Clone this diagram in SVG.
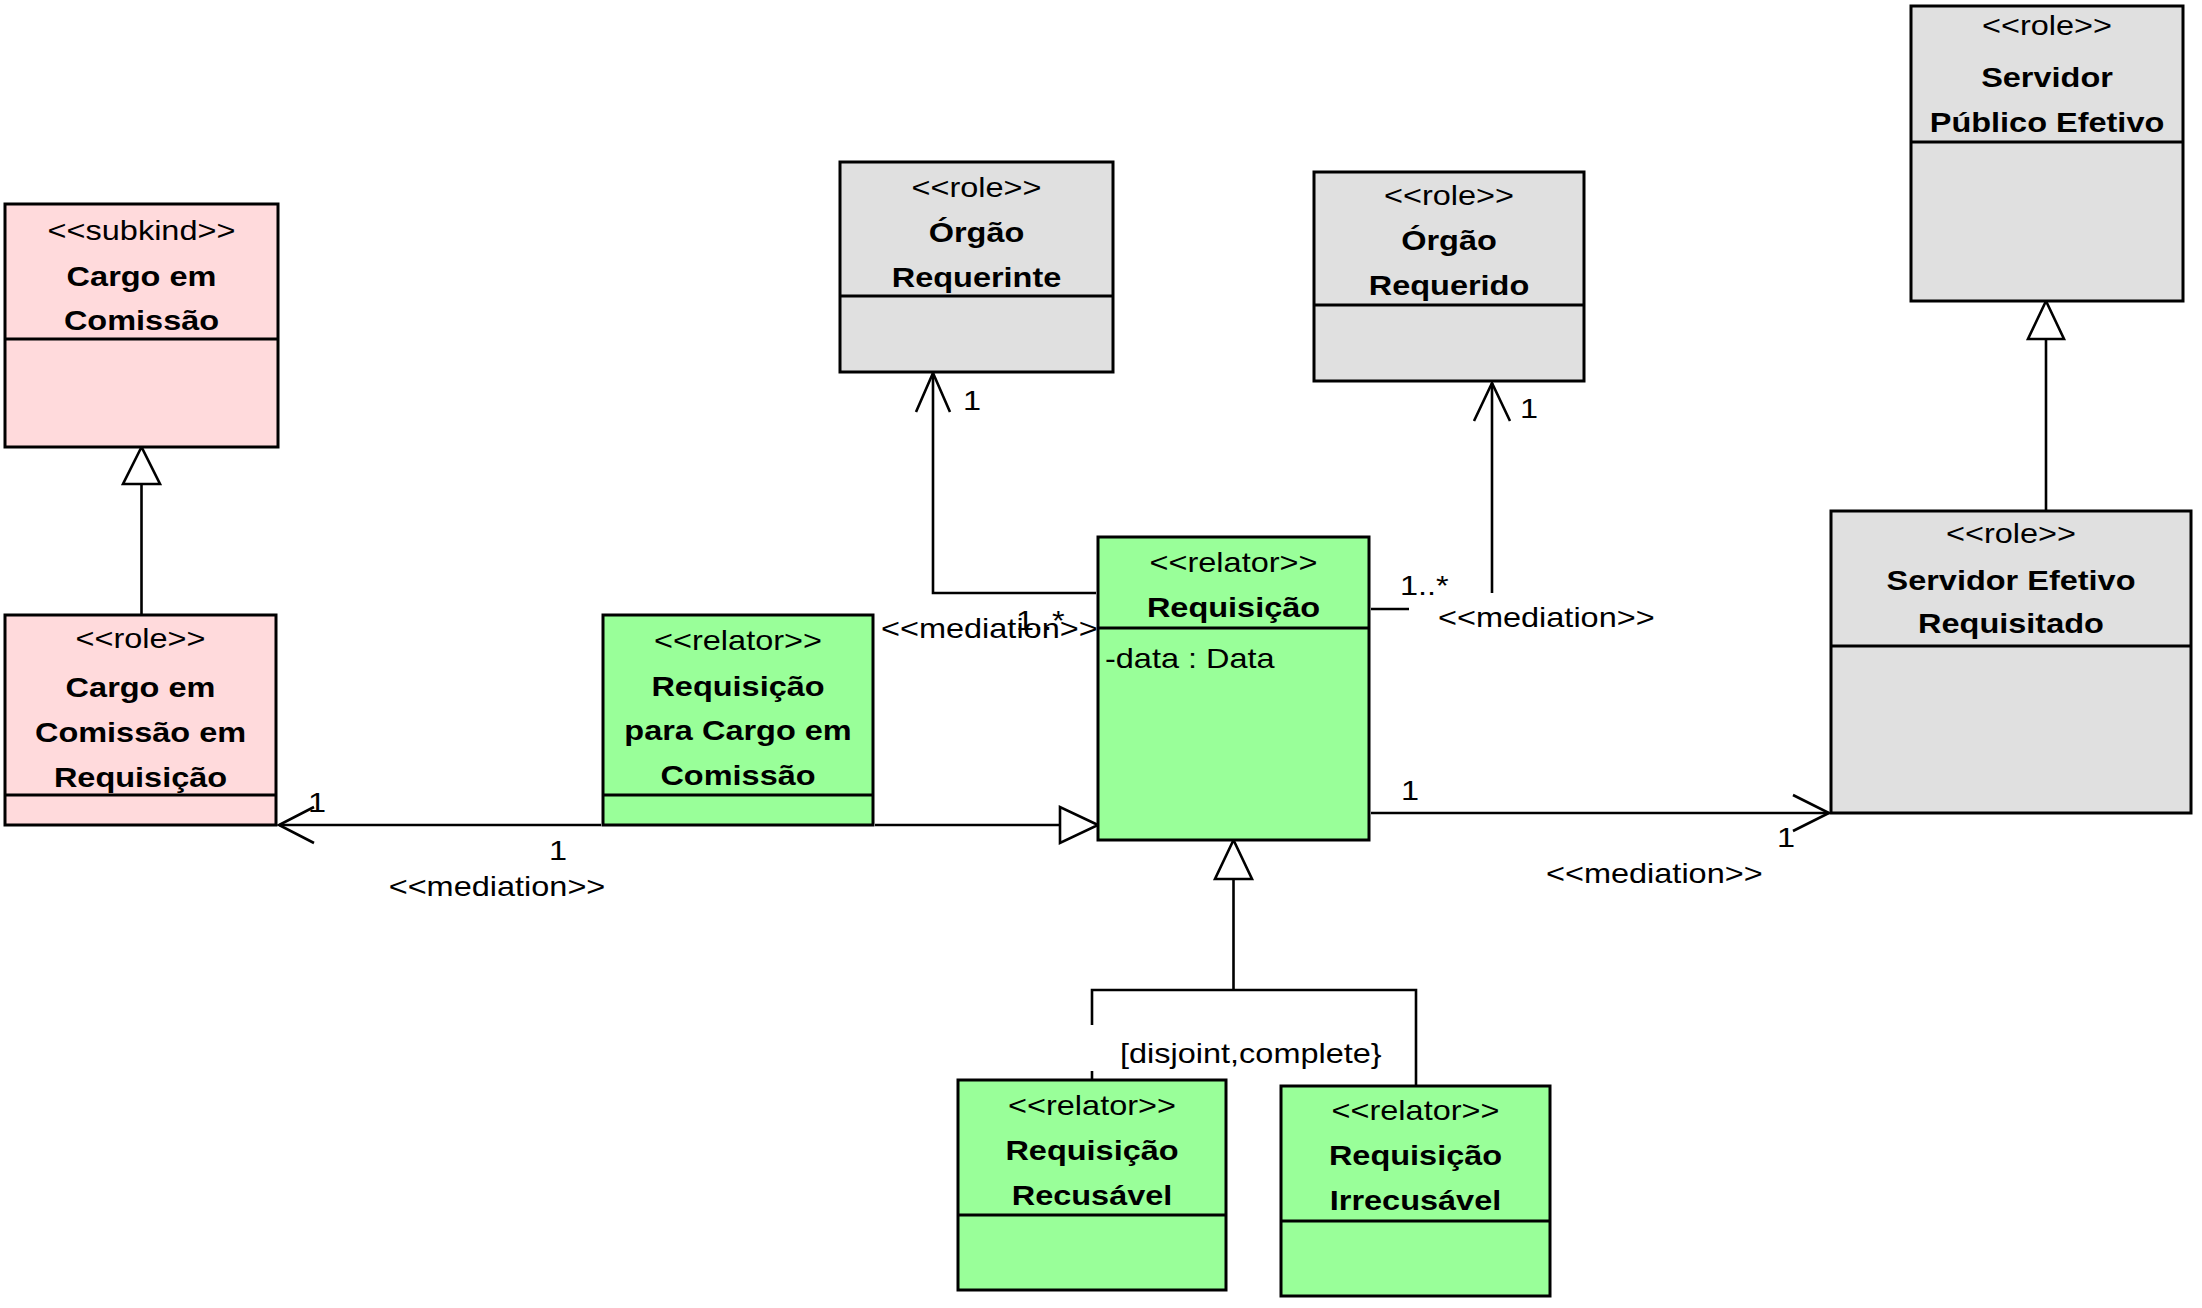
<svg xmlns="http://www.w3.org/2000/svg" width="2202" height="1308" viewBox="0 0 2202 1308">
<style>
text{font-family:"Liberation Sans",Arial,sans-serif;font-size:28px;fill:#000}
.c{text-anchor:middle}
.b{font-weight:bold}
.box{stroke:#000;stroke-width:3}
.pink{fill:#FFDADC}
.green{fill:#99FF99}
.gray{fill:#E0E0E0}
.div{stroke:#000;stroke-width:3}
.ln{fill:none;stroke:#000;stroke-width:2.6}
.tri{fill:#fff;stroke:#000;stroke-width:2.6;stroke-linejoin:miter}
</style>
<rect width="2202" height="1308" fill="#fff"/>
<g id="connectors">
  <!-- generalizations -->
  <line class="ln" x1="141.5" y1="615" x2="141.5" y2="484"/>
  <polygon class="tri" points="141.5,447 123,484 160,484"/>
  <line class="ln" x1="2046" y1="511" x2="2046" y2="339"/>
  <polygon class="tri" points="2046,301 2028,339 2064,339"/>
  <line class="ln" x1="875" y1="825" x2="1060" y2="825"/>
  <polygon class="tri" points="1098,825 1060,807 1060,843"/>
  <polygon class="tri" points="1233.5,840 1215,879 1252,879"/>
  <polyline class="ln" points="1092,1025 1092,990 1416,990 1416,1086"/>
  <line class="ln" x1="1233.5" y1="879" x2="1233.5" y2="990"/>
  <line class="ln" x1="1092" y1="1071" x2="1092" y2="1080"/>
  <text transform="translate(1120,1063) scale(1.16,1)">[disjoint,complete}</text>
  <!-- mediation: Req para Cargo -> Cargo em Comissao em Requisicao -->
  <line class="ln" x1="601" y1="825" x2="279" y2="825"/>
  <polyline class="ln" points="314,807 279,825 314,843"/>
  <text class="c" transform="translate(317,812) scale(1.16,1)">1</text>
  <text class="c" transform="translate(558,860) scale(1.16,1)">1</text>
  <text class="c" transform="translate(497,896) scale(1.16,1)">&lt;&lt;mediation&gt;&gt;</text>
  <!-- mediation: Requisicao -> Orgao Requerinte -->
  <polyline class="ln" points="1096,593 933,593 933,373"/>
  <polyline class="ln" points="916,412 933,373 950,412"/>
  <text class="c" transform="translate(972,410) scale(1.16,1)">1</text>
  <text transform="translate(881,638) scale(1.16,1)">&lt;&lt;mediation&gt;&gt;</text>
  <text transform="translate(1016,630) scale(1.16,1)">1..*</text>
  <!-- mediation: Requisicao -> Orgao Requerido -->
  <line class="ln" x1="1371" y1="609" x2="1409" y2="609"/>
  <line class="ln" x1="1492" y1="593" x2="1492" y2="383"/>
  <polyline class="ln" points="1474,421 1492,383 1510,421"/>
  <text class="c" transform="translate(1529,418) scale(1.16,1)">1</text>
  <text transform="translate(1400,595) scale(1.16,1)">1..*</text>
  <text transform="translate(1438,627) scale(1.16,1)">&lt;&lt;mediation&gt;&gt;</text>
  <!-- mediation: Requisicao -> Servidor Efetivo Requisitado -->
  <line class="ln" x1="1371" y1="813" x2="1829" y2="813"/>
  <polyline class="ln" points="1793,795 1829,813 1793,831"/>
  <text class="c" transform="translate(1410,800) scale(1.16,1)">1</text>
  <text class="c" transform="translate(1786,847) scale(1.16,1)">1</text>
  <text transform="translate(1546,883) scale(1.16,1)">&lt;&lt;mediation&gt;&gt;</text>
</g>
<g id="cargo-em-comissao">
  <rect class="box pink" x="5" y="204" width="273" height="243"/>
  <line class="div" x1="5" y1="339" x2="278" y2="339"/>
  <text class="c" transform="translate(141.5,240) scale(1.16,1)">&lt;&lt;subkind&gt;&gt;</text>
  <text class="c b" transform="translate(141.5,286) scale(1.16,1)">Cargo em</text>
  <text class="c b" transform="translate(141.5,330) scale(1.16,1)">Comissão</text>
</g>
<g id="cargo-em-comissao-em-requisicao">
  <rect class="box pink" x="5" y="615" width="271" height="210"/>
  <line class="div" x1="5" y1="795" x2="276" y2="795"/>
  <text class="c" transform="translate(140.5,648) scale(1.16,1)">&lt;&lt;role&gt;&gt;</text>
  <text class="c b" transform="translate(140.5,697) scale(1.16,1)">Cargo em</text>
  <text class="c b" transform="translate(140.5,742) scale(1.16,1)">Comissão em</text>
  <text class="c b" transform="translate(140.5,787) scale(1.16,1)">Requisição</text>
</g>
<g id="requisicao-para-cargo-em-comissao">
  <rect class="box green" x="603" y="615" width="270" height="210"/>
  <line class="div" x1="603" y1="795" x2="873" y2="795"/>
  <text class="c" transform="translate(738,650) scale(1.16,1)">&lt;&lt;relator&gt;&gt;</text>
  <text class="c b" transform="translate(738,696) scale(1.16,1)">Requisição</text>
  <text class="c b" transform="translate(738,740) scale(1.16,1)">para Cargo em</text>
  <text class="c b" transform="translate(738,785) scale(1.16,1)">Comissão</text>
</g>
<g id="requisicao">
  <rect class="box green" x="1098" y="537" width="271" height="303"/>
  <line class="div" x1="1098" y1="628" x2="1369" y2="628"/>
  <text class="c" transform="translate(1233.5,572) scale(1.16,1)">&lt;&lt;relator&gt;&gt;</text>
  <text class="c b" transform="translate(1233.5,617) scale(1.16,1)">Requisição</text>
  <text transform="translate(1105,668) scale(1.16,1)">-data : Data</text>
</g>
<g id="orgao-requerinte">
  <rect class="box gray" x="840" y="162" width="273" height="210"/>
  <line class="div" x1="840" y1="296" x2="1113" y2="296"/>
  <text class="c" transform="translate(976.5,197) scale(1.16,1)">&lt;&lt;role&gt;&gt;</text>
  <text class="c b" transform="translate(976.5,242) scale(1.16,1)">Órgão</text>
  <text class="c b" transform="translate(976.5,287) scale(1.16,1)">Requerinte</text>
</g>
<g id="orgao-requerido">
  <rect class="box gray" x="1314" y="172" width="270" height="209"/>
  <line class="div" x1="1314" y1="305" x2="1584" y2="305"/>
  <text class="c" transform="translate(1449,205) scale(1.16,1)">&lt;&lt;role&gt;&gt;</text>
  <text class="c b" transform="translate(1449,250) scale(1.16,1)">Órgão</text>
  <text class="c b" transform="translate(1449,295) scale(1.16,1)">Requerido</text>
</g>
<g id="servidor-publico-efetivo">
  <rect class="box gray" x="1911" y="6" width="272" height="295"/>
  <line class="div" x1="1911" y1="142" x2="2183" y2="142"/>
  <text class="c" transform="translate(2047,35) scale(1.16,1)">&lt;&lt;role&gt;&gt;</text>
  <text class="c b" transform="translate(2047,87) scale(1.16,1)">Servidor</text>
  <text class="c b" transform="translate(2047,132) scale(1.16,1)">Público Efetivo</text>
</g>
<g id="servidor-efetivo-requisitado">
  <rect class="box gray" x="1831" y="511" width="360" height="302"/>
  <line class="div" x1="1831" y1="646" x2="2191" y2="646"/>
  <text class="c" transform="translate(2011,543) scale(1.16,1)">&lt;&lt;role&gt;&gt;</text>
  <text class="c b" transform="translate(2011,590) scale(1.16,1)">Servidor Efetivo</text>
  <text class="c b" transform="translate(2011,633) scale(1.16,1)">Requisitado</text>
</g>
<g id="requisicao-recusavel">
  <rect class="box green" x="958" y="1080" width="268" height="210"/>
  <line class="div" x1="958" y1="1215" x2="1226" y2="1215"/>
  <text class="c" transform="translate(1092,1115) scale(1.16,1)">&lt;&lt;relator&gt;&gt;</text>
  <text class="c b" transform="translate(1092,1160) scale(1.16,1)">Requisição</text>
  <text class="c b" transform="translate(1092,1205) scale(1.16,1)">Recusável</text>
</g>
<g id="requisicao-irrecusavel">
  <rect class="box green" x="1281" y="1086" width="269" height="210"/>
  <line class="div" x1="1281" y1="1221" x2="1550" y2="1221"/>
  <text class="c" transform="translate(1415.5,1120) scale(1.16,1)">&lt;&lt;relator&gt;&gt;</text>
  <text class="c b" transform="translate(1415.5,1165) scale(1.16,1)">Requisição</text>
  <text class="c b" transform="translate(1415.5,1210) scale(1.16,1)">Irrecusável</text>
</g>
</svg>
